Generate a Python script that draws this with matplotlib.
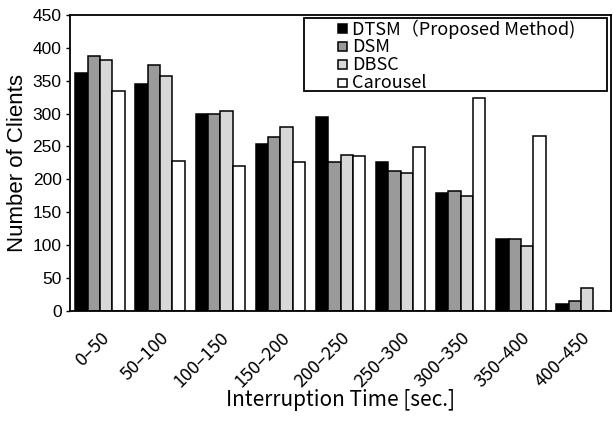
import matplotlib.pyplot as plt
from matplotlib.patches import Rectangle
import numpy as np

categories = ["0\u201350", "50\u2013100", "100\u2013150", "150\u2013200", "200\u2013250",
              "250\u2013300", "300\u2013350", "350\u2013400", "400\u2013450"]
dtsm = [361, 345, 300, 254, 295, 226, 180, 109, 11]
dsm = [388, 374, 300, 265, 226, 212, 183, 109, 15]
dbsc = [381, 357, 304, 280, 237, 209, 175, 99, 35]
carousel = [335, 228, 221, 226, 235, 249, 323, 266, 0]

series_names = ["DTSM\uff08Proposed Method)", "DSM", "DBSC", "Carousel"]
colors = ["#000000", "#9a9a9a", "#d8d8d8", "#ffffff"]

jp = ["Noto Sans CJK JP", "DejaVu Sans"]
lat = ["Liberation Sans", "DejaVu Sans"]

fig = plt.figure(figsize=(6.13, 4.38), dpi=100)
ax = fig.add_axes([0.114, 0.290, 0.883, 0.676])

x = np.arange(len(categories))
w = 0.205
for i, (vals, name, c) in enumerate(zip([dtsm, dsm, dbsc, carousel], series_names, colors)):
    ax.bar(x + (i - 1.5) * w, vals, width=w, color=c, edgecolor="black",
           linewidth=1.1, label=name)

ax.set_xlim(-0.5, 8.5)
ax.set_ylim(0, 450)
ax.set_yticks(range(0, 451, 50))
ax.set_yticklabels([str(v) for v in range(0, 451, 50)], family=lat, fontsize=12.5)
ax.set_xticks(x)
ax.set_xticklabels(categories, family=jp, fontsize=13, rotation=45,
                   ha="right", rotation_mode="anchor")
ax.tick_params(axis="x", length=0, pad=13)
ax.tick_params(axis="y", length=3, width=1, direction="out", pad=3)
for s in ax.spines.values():
    s.set_linewidth(1.3)

ax.set_ylabel("Number of Clients", family=lat, fontsize=16)
ax.yaxis.set_label_coords(-0.078, 0.5)
ax.set_xlabel("Interruption Time [sec.]", family=jp, fontsize=15)
ax.xaxis.set_label_coords(0.5, -0.262)

# legend, drawn by hand so the rows sit as tight as in the original
ax.add_patch(Rectangle((0.4325, 0.743), 0.56, 0.247, transform=ax.transAxes,
                       facecolor="white", edgecolor="black", linewidth=1.3,
                       zorder=5))
row_y = [0.953, 0.892, 0.831, 0.770]
for name, c, yy in zip(series_names, colors, row_y):
    ax.add_patch(Rectangle((0.495, yy - 0.015), 0.0166, 0.030, transform=ax.transAxes,
                           facecolor=c, edgecolor="black", linewidth=1.1, zorder=6))
    ax.text(0.521, yy, name, transform=ax.transAxes, family=jp, fontsize=13,
            va="center", ha="left", zorder=6)

fig.savefig("out.png", dpi=100)
